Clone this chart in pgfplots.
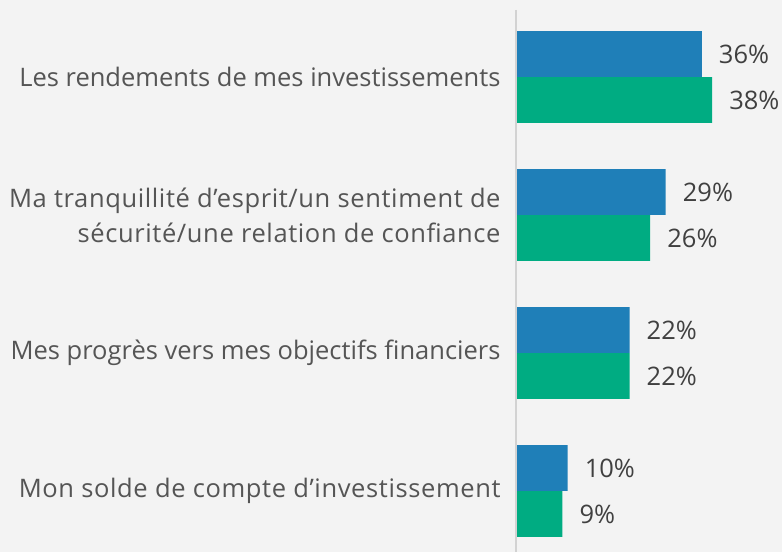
\documentclass[border=0pt]{standalone}
\usepackage{fontspec}
\setmainfont{Open Sans}
\usepackage{pgfplots}
\pgfplotsset{compat=1.18}
\definecolor{barblue}{HTML}{1F7FB8}
\definecolor{bargreen}{HTML}{00AC82}
\definecolor{bgc}{HTML}{F3F3F3}
\definecolor{txt}{HTML}{555555}
\definecolor{vtxt}{HTML}{404040}
\definecolor{axc}{HTML}{D2D2D2}
\newcommand{\lsp}{\addfontfeature{LetterSpace=2.4}}
\begin{document}
\begin{tikzpicture}
\useasboundingbox (0,0) rectangle (782bp,552bp);
\fill[bgc] (0,0) rectangle (782bp,552bp);
\begin{axis}[
  at={(516bp,0)}, anchor=south west,
  scale only axis, width=266bp, height=552bp,
  xmin=0, xmax=51.55, ymin=-0.558, ymax=3.442,
  y dir=reverse,
  xbar, bar width=0.333,
  axis line style={draw=none}, tick style={draw=none},
  xtick=\empty,
  ytick={0,1,2,3},
  yticklabels={{Les rendements de mes investissements},{\lsp Ma tranquillité d’esprit/un sentiment de\\\lsp sécurité/une relation de confiance},{Mes progrès vers mes objectifs financiers},{\lsp Mon solde de compte d’investissement}},
  yticklabel style={align=right, inner sep=0pt, text=txt, font=\fontsize{25.5bp}{35bp}\selectfont},
  yticklabel shift=11bp,
  point meta=x,
  nodes near coords={\pgfmathprintnumber[assume math mode=true]{\pgfplotspointmeta}\%},
  nodes near coords style={anchor=west, inner sep=0pt, xshift=17bp, text=vtxt, font=\fontsize{25.5bp}{30bp}\selectfont},
  clip=false,
]
\addplot[fill=barblue, draw=none, bar shift=-0.1667] coordinates {(36,0) (29,1) (22,2) (10,3)};
\addplot[fill=bargreen, draw=none, bar shift=0.1667] coordinates {(38,0) (26,1) (22,2) (9,3)};
\draw[axc, line width=1.5bp] (axis cs:0,-0.486) -- (axis cs:0,3.442);
\end{axis}
\end{tikzpicture}
\end{document}
